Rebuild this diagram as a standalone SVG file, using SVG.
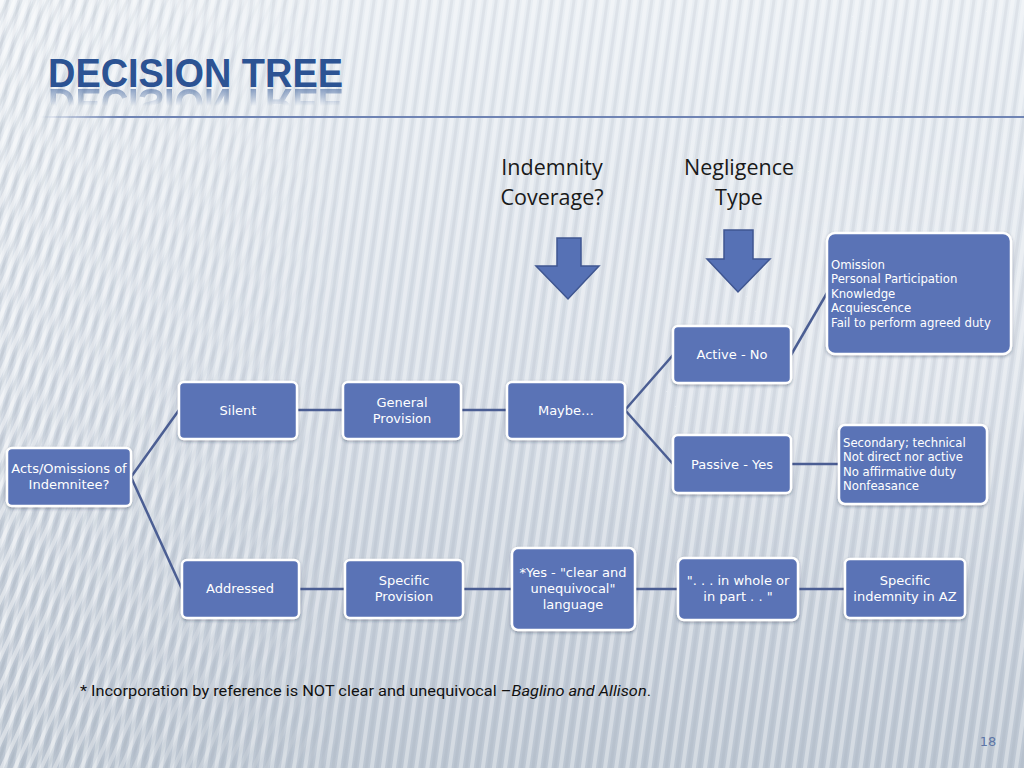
<svg xmlns="http://www.w3.org/2000/svg" xmlns:xlink="http://www.w3.org/1999/xlink" width="1024" height="768" viewBox="0 0 1024 768">
  <defs>
    <linearGradient id="bg" x1="0" y1="0" x2="0" y2="1">
      <stop offset="0" stop-color="#e9eef3"/>
      <stop offset="0.5" stop-color="#d6dde6"/>
      <stop offset="1" stop-color="#bcc6d2"/>
    </linearGradient>
    <pattern id="stripes" width="11" height="40" patternUnits="userSpaceOnUse" patternTransform="rotate(8)">
      <rect x="0" y="0" width="4" height="40" fill="#ffffff" opacity="0.35"/>
      <rect x="6" y="0" width="3" height="40" fill="#8a97a8" opacity="0.12"/>
    </pattern>
    <pattern id="diag" width="12" height="40" patternUnits="userSpaceOnUse" patternTransform="rotate(25)">
      <rect x="0" y="0" width="4" height="40" fill="#ffffff" opacity="0.45"/>
      <rect x="6" y="0" width="3" height="40" fill="#8a97a8" opacity="0.15"/>
    </pattern>
    <linearGradient id="diagFade" x1="0" y1="0" x2="1" y2="0">
      <stop offset="0" stop-color="#fff" stop-opacity="1"/>
      <stop offset="1" stop-color="#fff" stop-opacity="0"/>
    </linearGradient>
    <mask id="diagMask">
      <rect x="0" y="0" width="360" height="768" fill="url(#diagFade)"/>
    </mask>
    <linearGradient id="refl" x1="0" y1="0" x2="0" y2="1">
      <stop offset="0" stop-color="#fff" stop-opacity="0.55"/>
      <stop offset="0.6" stop-color="#fff" stop-opacity="0"/>
    </linearGradient>
    <mask id="reflMask" maskUnits="userSpaceOnUse" x="0" y="0" width="1024" height="768">
      <rect x="0" y="88" width="400" height="30" fill="url(#refl)"/>
    </mask>
    <linearGradient id="rule" x1="0" y1="0" x2="1" y2="0">
      <stop offset="0" stop-color="#6f84b4" stop-opacity="0"/>
      <stop offset="0.08" stop-color="#6f84b4"/>
      <stop offset="1" stop-color="#6f84b4"/>
    </linearGradient>
    <filter id="shadow" x="-10%" y="-10%" width="130%" height="140%">
      <feDropShadow dx="0" dy="1.5" stdDeviation="1.5" flood-color="#1f2c44" flood-opacity="0.35"/>
    </filter>
    <radialGradient id="swoosh" cx="0.85" cy="0.45" r="0.35">
      <stop offset="0" stop-color="#ffffff" stop-opacity="0.25"/>
      <stop offset="1" stop-color="#ffffff" stop-opacity="0"/>
    </radialGradient>
  </defs>
  <style>
    .node rect { fill: #5a73b6; stroke: #ffffff; stroke-width: 2.5; filter: url(#shadow); }
    .lbl { font-family: "DejaVu Sans", "Liberation Sans", sans-serif; font-size: 13px; fill: #ffffff; text-anchor: middle; }
    .lst { font-family: "DejaVu Sans", "Liberation Sans", sans-serif; font-size: 11.7px; fill: #ffffff; }
    .hdr { font-family: "Open Sans", "Liberation Sans", sans-serif; font-size: 21.5px; fill: #1a1a1a; text-anchor: middle; }
    #connectors line { stroke: #4b5e93; stroke-width: 2.5; fill: none; }
    .bigarrow { fill: #5671b5; stroke: #3f5691; stroke-width: 1.5; }
  </style>

  <!-- background -->
  <rect x="0" y="0" width="1024" height="768" fill="url(#bg)"/>
  <rect x="0" y="0" width="1024" height="768" fill="url(#swoosh)"/>
  <rect x="0" y="0" width="1024" height="768" fill="url(#stripes)"/>
  <rect x="0" y="0" width="360" height="768" fill="url(#diag)" mask="url(#diagMask)"/>

  <!-- title -->
  <g id="title">
    <text id="titleText" x="48" y="87" font-family="Liberation Sans, Arial, sans-serif" font-weight="bold" font-size="40" fill="#2c5393" textLength="295" lengthAdjust="spacingAndGlyphs">DECISION TREE</text>
    <g mask="url(#reflMask)">
      <use xlink:href="#titleText" href="#titleText" transform="translate(0,176) scale(1,-1)"/>
    </g>
    <rect x="40" y="116" width="984" height="2" fill="url(#rule)"/>
  </g>

  <!-- column headers -->
  <g id="header-indemnity">
    <text class="hdr" x="552" y="175">Indemnity</text>
    <text class="hdr" x="552" y="205">Coverage?</text>
    <path class="bigarrow" d="M557,238 L581,238 L581,266 L599,266 L568,299 L536,266 L557,266 Z"/>
  </g>
  <g id="header-negligence">
    <text class="hdr" x="739" y="175">Negligence</text>
    <text class="hdr" x="739" y="205">Type</text>
    <path class="bigarrow" d="M724,230 L753,230 L753,259 L770,259 L738,292 L707,259 L724,259 Z"/>
  </g>

  <!-- connectors -->
  <g id="connectors">
    <line x1="131" y1="477" x2="179" y2="410"/>
    <line x1="131" y1="477" x2="182" y2="589"/>
    <line x1="297" y1="410" x2="343" y2="410"/>
    <line x1="461" y1="410" x2="507" y2="410"/>
    <line x1="625" y1="410" x2="673" y2="355"/>
    <line x1="625" y1="410" x2="673" y2="464"/>
    <line x1="791" y1="355" x2="827" y2="293"/>
    <line x1="791" y1="464" x2="839" y2="464"/>
    <line x1="299" y1="589" x2="345" y2="589"/>
    <line x1="463" y1="589" x2="512" y2="589"/>
    <line x1="635" y1="589" x2="678" y2="589"/>
    <line x1="798" y1="589" x2="845" y2="589"/>
  </g>

  <!-- nodes -->
  <g id="node-acts" class="node">
    <rect x="7" y="448" width="124" height="58" rx="5"/>
    <text class="lbl" x="69" y="473">Acts/Omissions of</text>
    <text class="lbl" x="69" y="489">Indemnitee?</text>
  </g>
  <g id="node-silent" class="node">
    <rect x="179" y="382" width="118" height="57" rx="5"/>
    <text class="lbl" x="238" y="415">Silent</text>
  </g>
  <g id="node-general" class="node">
    <rect x="343" y="382" width="118" height="57" rx="5"/>
    <text class="lbl" x="402" y="407">General</text>
    <text class="lbl" x="402" y="423">Provision</text>
  </g>
  <g id="node-maybe" class="node">
    <rect x="507" y="382" width="118" height="57" rx="5"/>
    <text class="lbl" x="566" y="415">Maybe…</text>
  </g>
  <g id="node-active" class="node">
    <rect x="673" y="326" width="118" height="57" rx="5"/>
    <text class="lbl" x="732" y="359">Active - No</text>
  </g>
  <g id="node-active-list" class="node">
    <rect x="827" y="233" width="184" height="121" rx="8"/>
    <text class="lst" x="831" y="269">Omission</text>
    <text class="lst" x="831" y="283.4">Personal Participation</text>
    <text class="lst" x="831" y="297.8">Knowledge</text>
    <text class="lst" x="831" y="312.2">Acquiescence</text>
    <text class="lst" x="831" y="326.6">Fail to perform agreed duty</text>
  </g>
  <g id="node-passive" class="node">
    <rect x="673" y="435" width="118" height="58" rx="5"/>
    <text class="lbl" x="732" y="469">Passive - Yes</text>
  </g>
  <g id="node-passive-list" class="node">
    <rect x="839" y="425" width="148" height="79" rx="6"/>
    <text class="lst" x="843" y="446.7">Secondary; technical</text>
    <text class="lst" x="843" y="461.1">Not direct nor active</text>
    <text class="lst" x="843" y="475.5">No affirmative duty</text>
    <text class="lst" x="843" y="489.9">Nonfeasance</text>
  </g>
  <g id="node-addressed" class="node">
    <rect x="182" y="560" width="117" height="58" rx="5"/>
    <text class="lbl" x="240" y="593">Addressed</text>
  </g>
  <g id="node-specific" class="node">
    <rect x="345" y="560" width="118" height="58" rx="5"/>
    <text class="lbl" x="404" y="585">Specific</text>
    <text class="lbl" x="404" y="601">Provision</text>
  </g>
  <g id="node-yes" class="node">
    <rect x="512" y="548" width="123" height="82" rx="6"/>
    <text class="lbl" x="573" y="577">*Yes - "clear and</text>
    <text class="lbl" x="573" y="593">unequivocal"</text>
    <text class="lbl" x="573" y="609">language</text>
  </g>
  <g id="node-whole" class="node">
    <rect x="678" y="558" width="120" height="62" rx="6"/>
    <text class="lbl" x="738" y="585">". . . in whole or</text>
    <text class="lbl" x="738" y="601">in part . . "</text>
  </g>
  <g id="node-az" class="node">
    <rect x="845" y="559" width="120" height="59" rx="5"/>
    <text class="lbl" x="905" y="585">Specific</text>
    <text class="lbl" x="905" y="601">indemnity in AZ</text>
  </g>

  <!-- footnote -->
  <text x="80" y="696" font-family="Roboto, Liberation Sans, sans-serif" font-size="15" fill="#111111" textLength="571" lengthAdjust="spacingAndGlyphs">* Incorporation by reference is NOT clear and unequivocal –<tspan font-style="italic">Baglino and Allison</tspan>.</text>

  <!-- page number -->
  <text x="988" y="746" font-family="DejaVu Sans, Liberation Sans, sans-serif" font-size="13" fill="#5d76a6" text-anchor="middle">18</text>
</svg>
